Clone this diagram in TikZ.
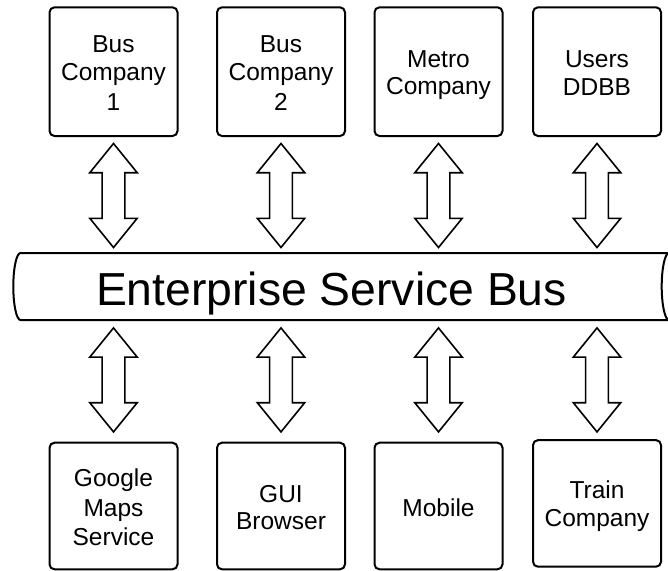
\documentclass[tikz,border=0pt]{standalone}
\usepackage{fontspec}
\setmainfont{Liberation Sans}
\usetikzlibrary{calc}
\newcommand\lnstrut{\vrule height 23.75pt depth 3.75pt width 0pt}
\begin{document}
\begin{tikzpicture}[x=1pt,y=-1pt,
  box/.style={draw, line width=2pt, rounded corners=5pt, minimum width=128pt,
    minimum height=128.7pt, inner sep=0pt, outer sep=0pt, align=center,
    font=\fontsize{24.5}{27.5}\selectfont},
  lowbox/.style={box, minimum height=126.6pt},
  busline/.style={draw, line width=2pt},
  arrowline/.style={draw, line width=1.6pt, line join=miter, fill=white},
  dbl/.pic={\path[arrowline] (0,-52) -- (23.7,-22.8) -- (11.4,-22.8) -- (11.4,22.8)
     -- (23.7,22.8) -- (0,52) -- (-23.7,22.8) -- (-11.4,22.8) -- (-11.4,-22.8)
     -- (-23.7,-22.8) -- cycle;}
]
\useasboundingbox (0,0) rectangle (668,570);

% top row
\node[box] (t1) at (113.5,71.65) {\lnstrut Bus\\\lnstrut Company\\\lnstrut 1};
\node[box] (t2) at (281,71.65) {\lnstrut Bus\\\lnstrut Company\\\lnstrut 2};
\node[box] (t3) at (438.5,71.65) {\lnstrut Metro\\\lnstrut Company};
\node[box] (t4) at (597,71.65) {\lnstrut Users\\\lnstrut DDBB};

% bottom row
\node[lowbox] (b1) at (113.5,506) {\lnstrut Google\\\lnstrut Maps\\\lnstrut Service};
\node[lowbox] (b2) at (281,506) {\lnstrut GUI\\\lnstrut Browser};
\node[lowbox] (b3) at (438.5,506) {\lnstrut Mobile};
\node[lowbox] (b4) at (597,503.4) {\lnstrut Train\\\lnstrut Company};

% bus
\node[minimum width=648.5pt, minimum height=67pt, inner sep=0pt, outer sep=0pt] (bus) at (344.75,286.5) {};
\begin{scope}
\clip (0,0) rectangle (668,570);
\path[busline] (bus.north east) -- (bus.north west)
  arc[start angle=-90, end angle=-270, x radius=7.2, y radius=33.5]
  -- (bus.south east);
\path[busline] (bus.north east)
  arc[start angle=-90, end angle=-270, x radius=7.3, y radius=33.5];
\end{scope}
\node[anchor=base, inner sep=0pt, font=\fontsize{46.3}{50}\selectfont] (bustext) at (331.5,305.7) {Enterprise Service Bus};

% arrows
\coordinate (ua) at (0,195.5);
\coordinate (la) at (0,379.9);
\foreach \n in {1,2,3,4}{
  \pic at (t\n |- ua) {dbl};
  \pic at (b\n |- la) {dbl};
}
\end{tikzpicture}
\end{document}
